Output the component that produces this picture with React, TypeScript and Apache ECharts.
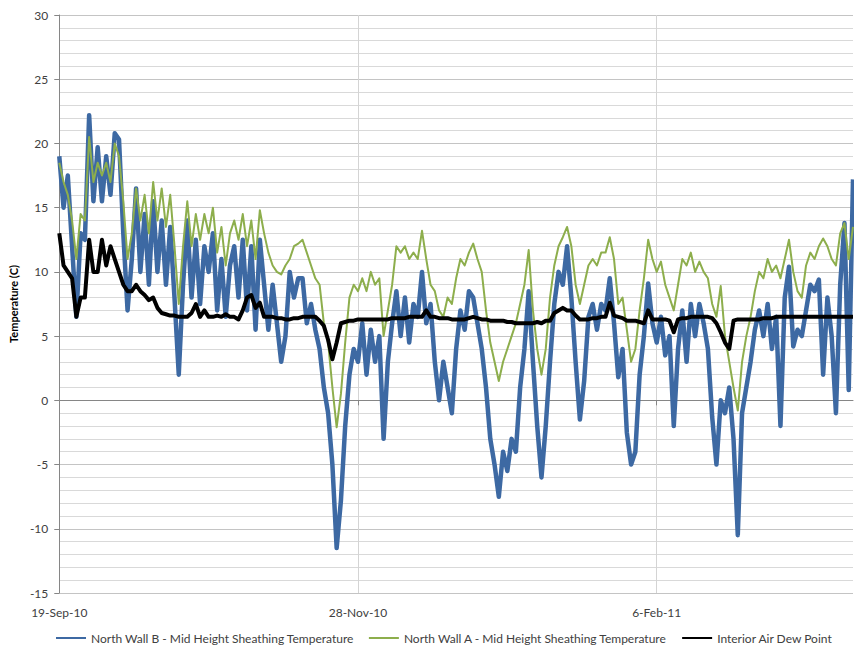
import React, { useEffect, useRef } from "react";
import * as echarts from "echarts";

// Day offsets from 19-Sep-2010 (one value per day, index = day)
const startDate = Date.UTC(2010, 8, 19);
const labelDays = [0, 70, 140];
const monthNames = ["Jan", "Feb", "Mar", "Apr", "May", "Jun", "Jul", "Aug", "Sep", "Oct", "Nov", "Dec"];

const northWallB = [
  19, 15, 17.5, 12, 6.5, 13, 12.5, 22.2, 15.5, 19.7,
  15.5, 19, 16, 20.8, 20.3, 13, 7, 11, 16.5, 10,
  14.5, 9, 15.5, 10, 14, 9, 13.5, 8, 2, 9,
  14, 8, 12.5, 7.5, 12, 10, 13, 7, 11, 6.5,
  10.5, 12, 8, 12.5, 7, 12, 5.5, 12.5, 9, 5.5,
  9, 6, 3, 5, 10, 8, 9.5, 9.5, 6, 7.5,
  5.5, 4, 1, -1, -5, -11.5, -7.8, -2, 2, 4,
  3, 6, 2, 5.5, 3, 5, -3, 3, 6, 8.5,
  5, 8, 4.5, 7.5, 6.5, 10, 6, 7.5, 3, 0,
  3, 1, -1, 4, 7, 5.5, 8.5, 8, 6, 4,
  1, -3, -5, -7.5, -4, -5.5, -3, -4, 1, 4,
  8.5, 3, -2, -6, -2, 3, 7.5, 10, 9, 12,
  8, 3, -1.5, 1.5, 6.5, 7.5, 5.5, 7.5, 7, 9.5,
  6, 1.8, 4, -2.5, -5, -4, 2, 5, 9.1, 6,
  4.5, 6.5, 3.5, 5, -2, 4, 7, 3, 7.5, 5,
  7.5, 6, 4, -1.3, -5, 0, -1, 1, -3, -10.5,
  -1, 1, 3, 5.5, 7, 5, 7.5, 4, 6.5, -2,
  8, 10.4, 4.2, 5.5, 5, 7, 9, 8.5, 9.4, 2,
  8, 5, -1, 9, 13.8, 0.8, 17.2,
];

const northWallA = [
  18.5, 17, 16, 14, 11, 14.5, 14, 20.5, 17, 18.5,
  17.5, 18.5, 17, 20, 19, 15.5, 11, 13, 16.5, 14,
  16, 13, 17, 14, 16.5, 13.5, 16, 12, 7.5, 12,
  15.5, 12, 14.5, 12.5, 14.5, 13, 15, 11.5, 13.5, 10.5,
  13, 14, 12.5, 14.5, 12, 14, 11, 14.8, 13, 11.5,
  10.5, 10, 9.8, 10.5, 11, 12, 12.2, 12.5, 11.5, 10.5,
  9.5, 9, 6, 4.5, 1, -2.1, 0.5, 4.5, 8, 9,
  8.5, 9.5, 8.5, 10, 9, 9.5, 5, 7, 9, 12,
  11.5, 12, 11, 11.5, 11, 13.2, 11, 9, 8.5, 7,
  6.5, 8, 7.5, 9.5, 11, 10.5, 11.5, 12.2, 11, 10,
  7, 4.5, 3, 1.5, 3, 4, 5, 6, 7.5, 9,
  11.7, 7, 4, 2, 4, 8, 10.5, 12, 12.7, 13.5,
  12, 9, 7.5, 9, 10.5, 11, 10.5, 11.5, 11.5, 12.7,
  11, 7.5, 8, 5.5, 3, 4, 7, 9.5, 12.5, 11,
  10, 10.8, 9, 8, 7, 9, 11, 10.5, 11.5, 10,
  10.8, 10, 9.5, 7.5, 6.5, 8.9, 5, 3, 1, -0.8,
  3, 5, 6.5, 8.5, 10, 9.5, 11, 10, 10.5, 9.5,
  11, 12.5, 10, 8.5, 8, 10.5, 11.5, 11, 12, 12.6,
  12, 11, 10.5, 13, 13.8, 11, 13.5,
];

const dewPoint = [
  13, 10.5, 10, 9.5, 6.5, 8, 8, 12.5, 10, 10,
  12.5, 10.5, 12, 11, 10, 9, 8.5, 8.5, 9, 8.5,
  8.2, 7.8, 8, 7.2, 6.8, 6.7, 6.6, 6.6, 6.5, 6.5,
  6.5, 6.8, 7.5, 6.5, 7, 6.5, 6.5, 6.6, 6.5, 6.7,
  6.5, 6.5, 6.3, 7, 8, 8.2, 7.2, 7.6, 6.5, 6.5,
  6.5, 6.4, 6.4, 6.3, 6.3, 6.4, 6.4, 6.5, 6.5, 6.5,
  6.5, 6.2, 5.8, 4.7, 3.2, 4.5, 6, 6.1, 6.2, 6.2,
  6.3, 6.3, 6.3, 6.3, 6.3, 6.3, 6.3, 6.3, 6.4, 6.4,
  6.4, 6.4, 6.5, 6.5, 6.5, 6.5, 7, 6.5, 6.5, 6.4,
  6.4, 6.4, 6.3, 6.3, 6.3, 6.3, 6.4, 6.5, 6.4, 6.3,
  6.3, 6.2, 6.2, 6.2, 6.2, 6.1, 6.1, 6, 6, 6,
  6, 6, 6.1, 6, 6.2, 6.2, 6.8, 7, 7.2, 7,
  7, 6.6, 6.3, 6.3, 6.3, 6.4, 6.4, 6.5, 6.5, 7.6,
  6.6, 6.5, 6.4, 6.2, 6.2, 6.2, 6.1, 6, 7, 6.3,
  6.3, 6.3, 6.3, 6.2, 5.3, 6.3, 6.4, 6.4, 6.5, 6.5,
  6.5, 6.5, 6.5, 6.4, 6, 5.3, 4.5, 4, 6.2, 6.3,
  6.3, 6.3, 6.3, 6.3, 6.3, 6.4, 6.4, 6.4, 6.5, 6.5,
  6.5, 6.5, 6.5, 6.5, 6.5, 6.5, 6.5, 6.5, 6.5, 6.5,
  6.5, 6.5, 6.5, 6.5, 6.5, 6.5, 6.5,
];

const seriesNames = [
  "North Wall B - Mid Height Sheathing Temperature",
  "North Wall A - Mid Height Sheathing Temperature",
  "Interior Air Dew Point",
];

function dayLabel(v: number): string {
  if (Math.round(v) % 70 !== 0) return "";
  const d = new Date(startDate + Math.round(v) * 86400000);
  const yy = String(d.getUTCFullYear()).slice(2);
  return `${d.getUTCDate()}-${monthNames[d.getUTCMonth()]}-${yy}`;
}

const toPairs = (arr: number[]) => arr.map((v, i) => [i, v]);

export default function App() {
  const ref = useRef<HTMLDivElement>(null);
  useEffect(() => {
    document.body.style.margin = "0";
    if (!ref.current) return;
    const chart = echarts.init(ref.current, null, { renderer: "svg" });
    const font = "Lato, 'Open Sans', sans-serif";
    chart.setOption({
      animation: false,
      backgroundColor: "#ffffff",
      textStyle: { fontFamily: font },
      grid: { left: 57, right: 1, top: 15, bottom: 55, containLabel: false },
      legend: {
        top: 632,
        left: 55,
        padding: 0,
        itemWidth: 30,
        itemHeight: 12,
        itemGap: 14,
        itemStyle: { opacity: 0 },
        textStyle: { fontSize: 12, color: "#404040", fontFamily: font },
        data: seriesNames,
      },
      xAxis: {
        type: "value",
        min: 0,
        max: 186,
        interval: 14,
        axisLine: { show: true, lineStyle: { color: "#868686", width: 1 } },
        axisTick: { show: true, length: 5, customValues: labelDays, lineStyle: { color: "#868686" } },
        axisLabel: {
          customValues: labelDays,
          formatter: dayLabel,
          color: "#404040",
          fontSize: 12,
          fontFamily: font,
          margin: 13,
        },
        splitLine: { show: true, lineStyle: { color: "#d4d4d4", width: 1 } },
      },
      yAxis: {
        type: "value",
        min: -15,
        max: 30,
        interval: 5,
        name: "Temperature (C)",
        nameLocation: "middle",
        nameGap: 40,
        nameRotate: 90,
        nameTextStyle: { fontWeight: "bold", fontSize: 11, color: "#000000", fontFamily: font },
        axisLine: { show: true, lineStyle: { color: "#868686", width: 1 } },
        axisTick: { show: true, length: 5, lineStyle: { color: "#868686" } },
        axisLabel: { color: "#404040", fontSize: 12, margin: 11, fontFamily: font },
        splitLine: { show: true, lineStyle: { color: "#c4c4c4", width: 1 } },
        minorTick: { show: false, splitNumber: 5 },
        minorSplitLine: { show: true, lineStyle: { color: "#d9d9d9", width: 1 } },
      },
      series: [
        {
          name: seriesNames[0],
          type: "line",
          data: toPairs(northWallB),
          showSymbol: false,
          symbol: "none",
          color: "#3D69A3",
          lineStyle: { width: 4.5, color: "#3D69A3", join: "round" },
          z: 2,
        },
        {
          name: seriesNames[1],
          type: "line",
          data: toPairs(northWallA),
          showSymbol: false,
          symbol: "none",
          color: "#8DAE4C",
          lineStyle: { width: 2, color: "#8DAE4C", join: "round" },
          z: 3,
        },
        {
          name: seriesNames[2],
          type: "line",
          data: toPairs(dewPoint),
          showSymbol: false,
          symbol: "none",
          color: "#000000",
          lineStyle: { width: 4, color: "#000000", join: "round" },
          z: 4,
        },
      ],
    });
    return () => chart.dispose();
  }, []);
  return <div ref={ref} style={{ width: 854, height: 648 }} />;
}
